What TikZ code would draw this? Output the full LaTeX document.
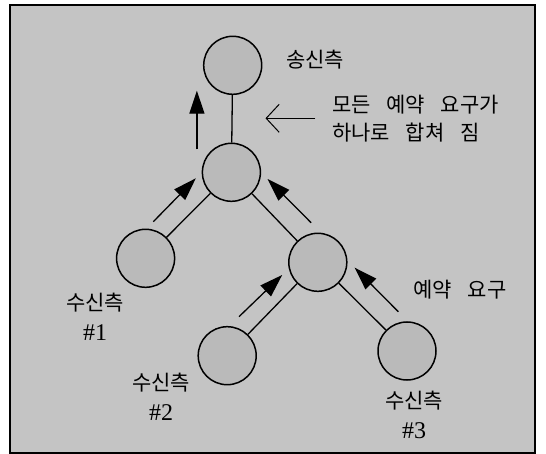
\documentclass[tikz,border=0pt]{standalone}
\usepackage{fontspec}
\newfontfamily\kfont{Noto Sans CJK KR}
\newfontfamily\nfont{Liberation Serif}
\usetikzlibrary{arrows.meta}
\definecolor{bggray}{RGB}{196,196,196}
\definecolor{circgray}{RGB}{186,186,186}
\tikzset{
  peer/.style={circle,draw=black,line width=1.5pt,fill=circgray,minimum size=58pt,inner sep=0pt},
  link/.style={line width=1.3pt},
  req/.style={line width=1.3pt,-{Triangle[length=23pt,width=15pt]}},
  lbl/.style={font=\kfont\fontsize{21}{30}\selectfont,align=center,inner sep=0pt},
}
\newcommand{\ksp}{\hspace{0.75em}}
\newcommand{\num}[1]{{\nfont\fontsize{24}{30}\selectfont\##1}}
\begin{document}
\begin{tikzpicture}[x=1pt,y=-1pt]
\useasboundingbox (0,0) rectangle (546,454);
\fill[white] (0,0) rectangle (546,454);
\draw[line width=1.6pt,fill=bggray] (9.8,5.3) rectangle (535,452.7);
% nodes
\node[peer] (top) at (232.7,65.3) {};
\node[peer] (mid) at (231.4,172.3) {};
\node[peer] (l) at (145.6,258.3) {};
\node[peer] (rm) at (317.8,262.3) {};
\node[peer] (b2) at (227.2,355.7) {};
\node[peer] (b3) at (407,351) {};
% links
\draw[link] (top) -- (mid);
\draw[link] (mid) -- (l);
\draw[link] (mid) -- (rm);
\draw[link] (rm) -- (b2);
\draw[link] (rm) -- (b3);
% request arrows
\coordinate (a0s) at (196.9,149.3); \coordinate (a0e) at (196.9,90.7);
\coordinate (a1s) at (153.3,221.7); \coordinate (a1e) at (195.8,178.3);
\coordinate (a2s) at (311.1,222.7); \coordinate (a2e) at (267.6,179);
\coordinate (a3s) at (239,316.7);   \coordinate (a3e) at (282.2,275);
\coordinate (a4s) at (398.3,311.7); \coordinate (a4e) at (354.7,267.7);
\draw[req] (a0s) -- (a0e);
\draw[req] (a1s) -- (a1e);
\draw[req] (a2s) -- (a2e);
\draw[req] (a3s) -- (a3e);
\draw[req] (a4s) -- (a4e);
% labels
\node[lbl] (snd) at (315.3,60) {송신측};
\node[lbl,anchor=west,align=left,font=\kfont\fontsize{21}{28}\selectfont] (merge) at (332,119) {모든\ksp 예약\ksp 요구가\\하나로\ksp 합쳐\ksp 짐};
\coordinate (pt) at (315.3,118.3);
\coordinate (pe) at (265.5,118.3);
\draw[line width=1pt,-{Straight Barb[length=13pt,width=28pt,line width=1pt]}] (pt) -- (pe);
\node[lbl] (r1) at (95,316.7) {수신측\\\num{1}};
\node[lbl] (r2) at (161,396.7) {수신측\\\num{2}};
\node[lbl] (r3) at (414,415) {수신측\\\num{3}};
\node[lbl] (rq) at (460,290) {예약\ksp 요구};
\end{tikzpicture}
\end{document}
